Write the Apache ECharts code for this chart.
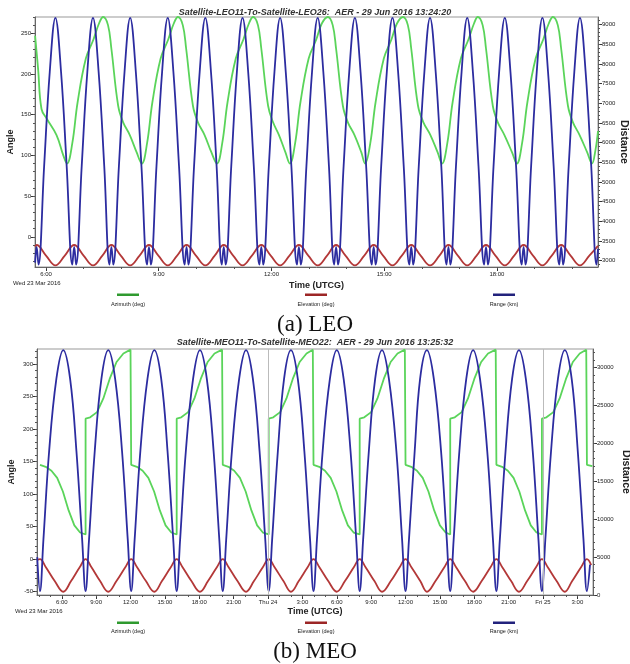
<!DOCTYPE html>
<html>
<head>
<meta charset="utf-8">
<title>AER LEO / MEO</title>
<script src="https://cdn.jsdelivr.net/npm/echarts@6/dist/echarts.min.js"></script>
<style>
html,body{margin:0;padding:0;background:#fff;}
#main{width:630px;height:664px;}
</style>
</head>
<body>
<div id="main"></div>
<script>
// ---- LEO pair, x = hour of Wed 23 Mar 2016 ----
var leoAzimuth = [
	[5.71,247],[5.79,206],[5.88,157],[6.02,145],[6.28,125],[6.46,100],
	[6.56,90],[6.70,115],[6.84,165],[7.06,219],[7.26,242],[7.41,262],[7.52,270],[7.65,260],[7.74,231],[7.92,161],[8.05,141],[8.23,125],[8.41,104],
	[8.55,90],[8.69,115],[8.83,165],[9.05,219],[9.25,242],[9.40,262],[9.51,270],[9.64,260],[9.73,231],[9.91,161],[10.04,141],[10.22,125],[10.40,104],
	[10.55,90],[10.69,115],[10.83,165],[11.05,219],[11.25,242],[11.40,262],[11.51,270],[11.64,260],[11.73,231],[11.91,161],[12.04,141],[12.20,125],[12.37,104],
	[12.49,90],[12.63,115],[12.77,165],[12.99,219],[13.19,242],[13.34,262],[13.50,270],[13.63,260],[13.72,231],[13.90,161],[14.03,141],[14.21,125],[14.39,104],
	[14.49,90],[14.63,115],[14.77,165],[14.99,219],[15.19,242],[15.34,262],[15.50,270],[15.63,260],[15.72,231],[15.90,161],[16.04,141],[16.23,125],[16.42,104],
	[16.54,90],[16.68,115],[16.82,165],[17.04,219],[17.24,242],[17.39,262],[17.49,270],[17.62,260],[17.71,231],[17.89,161],[18.02,141],[18.20,125],[18.40,104],
	[18.53,90],[18.67,115],[18.81,165],[19.03,219],[19.23,242],[19.38,262],[19.49,270],[19.62,260],[19.71,231],[19.89,161],[20.02,141],[20.20,125],[20.40,104],
	[20.53,90],[20.62,106],[20.69,130]
];
var leoElevation = [
	[5.71,-12],[5.75,-10],[6.00,-23],[6.25,-35],[6.50,-23],
	[6.75,-10],[7.00,-23],[7.25,-35],[7.50,-23],
	[7.74,-10],[7.99,-23],[8.24,-35],[8.49,-23],
	[8.74,-10],[8.99,-23],[9.24,-35],[9.49,-23],
	[9.74,-10],[9.99,-23],[10.24,-35],[10.49,-23],
	[10.73,-10],[10.98,-23],[11.23,-35],[11.48,-23],
	[11.73,-10],[11.98,-23],[12.23,-35],[12.48,-23],
	[12.73,-10],[12.98,-23],[13.23,-35],[13.48,-23],
	[13.72,-10],[13.97,-23],[14.22,-35],[14.47,-23],
	[14.72,-10],[14.97,-23],[15.22,-35],[15.47,-23],
	[15.72,-10],[15.97,-23],[16.22,-35],[16.47,-23],
	[16.71,-10],[16.96,-23],[17.21,-35],[17.46,-23],
	[17.71,-10],[17.96,-23],[18.21,-35],[18.46,-23],
	[18.71,-10],[18.96,-23],[19.21,-35],[19.46,-23],
	[19.71,-10],[19.96,-23],[20.21,-35],[20.46,-23],
	[20.69,-11]
];
var leoRange = [
	[5.71,2950],[5.75,3350],[5.80,2900],[5.95,5400],[6.10,7800],[6.25,9170],[6.40,7800],[6.55,5400],[6.70,2900],
	[6.75,3350],[6.80,2900],[6.95,5400],[7.10,7800],[7.25,9170],[7.40,7800],[7.55,5400],[7.69,2900],
	[7.74,3350],[7.79,2900],[7.94,5400],[8.09,7800],[8.24,9170],[8.39,7800],[8.54,5400],[8.69,2900],
	[8.74,3350],[8.79,2900],[8.94,5400],[9.09,7800],[9.24,9170],[9.39,7800],[9.54,5400],[9.69,2900],
	[9.74,3350],[9.79,2900],[9.94,5400],[10.09,7800],[10.24,9170],[10.39,7800],[10.54,5400],[10.68,2900],
	[10.73,3350],[10.78,2900],[10.93,5400],[11.08,7800],[11.23,9170],[11.38,7800],[11.53,5400],[11.68,2900],
	[11.73,3350],[11.78,2900],[11.93,5400],[12.08,7800],[12.23,9170],[12.38,7800],[12.53,5400],[12.68,2900],
	[12.73,3350],[12.78,2900],[12.93,5400],[13.08,7800],[13.23,9170],[13.38,7800],[13.53,5400],[13.67,2900],
	[13.72,3350],[13.77,2900],[13.92,5400],[14.07,7800],[14.22,9170],[14.37,7800],[14.52,5400],[14.67,2900],
	[14.72,3350],[14.77,2900],[14.92,5400],[15.07,7800],[15.22,9170],[15.37,7800],[15.52,5400],[15.67,2900],
	[15.72,3350],[15.77,2900],[15.92,5400],[16.07,7800],[16.22,9170],[16.37,7800],[16.52,5400],[16.66,2900],
	[16.71,3350],[16.76,2900],[16.91,5400],[17.06,7800],[17.21,9170],[17.36,7800],[17.51,5400],[17.66,2900],
	[17.71,3350],[17.76,2900],[17.91,5400],[18.06,7800],[18.21,9170],[18.36,7800],[18.51,5400],[18.66,2900],
	[18.71,3350],[18.76,2900],[18.91,5400],[19.06,7800],[19.21,9170],[19.36,7800],[19.51,5400],[19.66,2900],
	[19.71,3350],[19.76,2900],[19.91,5400],[20.06,7800],[20.21,9170],[20.36,7800],[20.51,5400],[20.65,2900],
	[20.69,3300]
];

// ---- MEO pair, x = hours counted from Wed 23 Mar 2016 00:00 ----
var meoAzimuth = [
	[4.10,145],[4.60,142],[5.10,136],[5.60,125],[6.10,104],[6.60,75],[7.10,52],[7.60,41],[8.08,38],[8.08,216],
	[8.48,218],[9.08,226],[9.63,247],[10.18,277],[10.78,303],[11.38,316],[12.00,322],[12.06,322],[12.06,145],
	[12.56,142],[13.06,136],[13.56,125],[14.06,104],[14.56,75],[15.06,52],[15.56,41],[16.03,38],[16.03,216],
	[16.43,218],[17.03,226],[17.58,247],[18.13,277],[18.73,303],[19.33,316],[19.99,322],[20.05,322],[20.05,145],
	[20.55,142],[21.05,136],[21.55,125],[22.05,104],[22.55,75],[23.05,52],[23.55,41],[24.06,38],[24.06,216],
	[24.46,218],[25.06,226],[25.61,247],[26.16,277],[26.76,303],[27.36,316],[27.91,322],[27.97,322],[27.97,145],
	[28.47,142],[28.97,136],[29.47,125],[29.97,104],[30.47,75],[30.97,52],[31.47,41],[32.00,38],[32.00,216],
	[32.40,218],[33.00,226],[33.55,247],[34.10,277],[34.70,303],[35.30,316],[35.94,322],[36.00,322],[36.00,145],
	[36.50,142],[37.00,136],[37.50,125],[38.00,104],[38.50,75],[39.00,52],[39.50,41],[39.90,38],[39.90,216],
	[40.30,218],[40.90,226],[41.45,247],[42.00,277],[42.60,303],[43.20,316],[43.87,322],[43.93,322],[43.93,145],
	[44.43,142],[44.93,136],[45.43,125],[45.93,104],[46.43,75],[46.93,52],[47.43,41],[47.90,38],[47.90,216],
	[48.30,218],[48.90,226],[49.45,247],[50.00,277],[50.60,303],[51.20,316],[51.77,322],[51.83,322],[51.83,145],
	[52.30,143]
];
var meoElevation = [
	[3.86,-1],[4.10,0],[4.60,-12],[5.40,-34],[6.13,-50],[6.80,-34],[7.58,-12],
	[8.08,0],[8.58,-12],[9.36,-34],[10.06,-50],[10.76,-34],[11.56,-12],
	[12.06,0],[12.56,-12],[13.36,-34],[14.08,-50],[14.73,-34],[15.53,-12],
	[16.03,0],[16.53,-12],[17.33,-34],[18.06,-50],[18.75,-34],[19.55,-12],
	[20.05,0],[20.55,-12],[21.35,-34],[22.08,-50],[22.76,-34],[23.56,-12],
	[24.06,0],[24.56,-12],[25.36,-34],[26.00,-50],[26.67,-34],[27.47,-12],
	[27.97,0],[28.47,-12],[29.27,-34],[30.00,-50],[30.70,-34],[31.50,-12],
	[32.00,0],[32.50,-12],[33.30,-34],[33.95,-50],[34.70,-34],[35.50,-12],
	[36.00,0],[36.50,-12],[37.30,-34],[37.87,-50],[38.60,-34],[39.40,-12],
	[39.90,0],[40.40,-12],[41.20,-34],[41.90,-50],[42.63,-34],[43.43,-12],
	[43.93,0],[44.43,-12],[45.23,-34],[45.90,-50],[46.60,-34],[47.40,-12],
	[47.90,0],[48.40,-12],[49.20,-34],[49.90,-50],[50.53,-34],[51.33,-12],
	[51.83,0],[52.20,-9]
];
var meoRange = [
	[3.86,5000],[4.10,500],[4.40,7300],[4.90,19000],[5.53,28500],[6.13,32300],[6.73,28500],[7.28,19000],[7.78,7300],
	[8.08,500],[8.38,7300],[8.88,19000],[9.46,28500],[10.06,32300],[10.66,28500],[11.26,19000],[11.76,7300],
	[12.06,500],[12.36,7300],[12.86,19000],[13.48,28500],[14.08,32300],[14.68,28500],[15.23,19000],[15.73,7300],
	[16.03,500],[16.33,7300],[16.83,19000],[17.46,28500],[18.06,32300],[18.66,28500],[19.25,19000],[19.75,7300],
	[20.05,500],[20.35,7300],[20.85,19000],[21.48,28500],[22.08,32300],[22.68,28500],[23.26,19000],[23.76,7300],
	[24.06,500],[24.36,7300],[24.86,19000],[25.40,28500],[26.00,32300],[26.60,28500],[27.17,19000],[27.67,7300],
	[27.97,500],[28.27,7300],[28.77,19000],[29.40,28500],[30.00,32300],[30.60,28500],[31.20,19000],[31.70,7300],
	[32.00,500],[32.30,7300],[32.80,19000],[33.35,28500],[33.95,32300],[34.55,28500],[35.20,19000],[35.70,7300],
	[36.00,500],[36.30,7300],[36.80,19000],[37.27,28500],[37.87,32300],[38.47,28500],[39.10,19000],[39.60,7300],
	[39.90,500],[40.20,7300],[40.70,19000],[41.30,28500],[41.90,32300],[42.50,28500],[43.13,19000],[43.63,7300],
	[43.93,500],[44.23,7300],[44.73,19000],[45.30,28500],[45.90,32300],[46.50,28500],[47.10,19000],[47.60,7300],
	[47.90,500],[48.20,7300],[48.70,19000],[49.30,28500],[49.90,32300],[50.50,28500],[51.03,19000],[51.53,7300],
	[51.83,500],[52.10,4000]
];

// ---- ticks ----
var leoTimeLabels = [6, 9, 12, 15, 18];
var meoTimeLabels = [6, 9, 12, 15, 18, 21, 24, 27, 30, 33, 36, 39, 42, 45, 48, 51];
var dayNames = {24: "Thu 24", 48: "Fri 25"};
var midnights = [24, 48];
var leoAngleLabels = [0, 50, 100, 150, 200, 250];
var leoDistLabels = [3000, 3500, 4000, 4500, 5000, 5500, 6000, 6500, 7000, 7500, 8000, 8500, 9000];
var meoAngleLabels = [-50, 0, 50, 100, 150, 200, 250, 300];
var meoDistLabels = [0, 5000, 10000, 15000, 20000, 25000, 30000];
var legendNames = ["Azimuth (deg)", "Elevation (deg)", "Range (km)"];

var font = "Liberation Sans";
var colGreen = "#5ad45a", colRed = "#b33838", colBlue = "#2c2ca0";

// minor tick positions
function steps(a, b, s) {
	var out = [];
	for (var v = a; v <= b + 1e-9; v += s) out.push(Math.round(v * 100) / 100);
	return out;
}

function timeFmt(v) {
	var h = Math.round(v);
	if (dayNames[h]) return dayNames[h];
	return (h % 24) + ":00";
}

function valAxis(grid, pos, min, max, labels, fmt, name, gap, rot, nameSize) {
	return {
		type: "value", gridIndex: grid, position: pos, min: min, max: max,
		name: name, nameLocation: "middle", nameGap: gap, nameRotate: rot, nameMoveOverlap: false,
		nameTextStyle: {fontFamily: font, fontSize: nameSize, fontWeight: "bold", color: "#222"},
		axisLine: {show: true, onZero: false, lineStyle: {color: "#666", width: 1}},
		axisTick: {show: true, length: 4, customValues: labels, lineStyle: {color: "#333"}},
		axisLabel: {show: true, customValues: labels, margin: 4, fontFamily: font, fontSize: 6, color: "#222",
			formatter: fmt || function (v) { return String(v); }},
		splitLine: {show: false}
	};
}
function minorAxis(grid, pos, min, max, ticks) {
	return {
		type: "value", gridIndex: grid, position: pos, min: min, max: max,
		axisLine: {show: false, onZero: false},
		axisLabel: {show: false},
		splitLine: {show: false},
		axisTick: {show: true, length: 2, customValues: ticks, lineStyle: {color: "#555"}}
	};
}

function line(name, data, color, xi, yi, smooth) {
	return {
		name: name, type: "line", data: data, xAxisIndex: xi, yAxisIndex: yi,
		showSymbol: false, symbol: "none", smooth: smooth, clip: true,
		lineStyle: {color: color, width: 1.8}, itemStyle: {color: color}
	};
}

// legend swatch + label under each chart
function legendGraphics(ySwatch, yText) {
	var xs = [128, 316, 504], cols = ["#2f9a2f", "#9c2626", "#22227c"], g = [];
	for (var i = 0; i < 3; i++) {
		g.push({type: "rect", left: xs[i] - 11, top: ySwatch, shape: {width: 22, height: 2.5}, style: {fill: cols[i]}});
		g.push({type: "text", x: xs[i], y: yText, style: {text: legendNames[i], font: "5.5px " + font, fill: "#222", textAlign: "center", textVerticalAlign: "middle"}});
	}
	return g;
}

var myChart = echarts.init(document.getElementById("main"));
var option = {
	animation: false,
	backgroundColor: "#fff",
	title: [
		{text: "Satellite-LEO11-To-Satellite-LEO26:  AER - 29 Jun 2016 13:24:20", left: "center", top: 3,
			textStyle: {fontFamily: font, fontSize: 9, fontStyle: "italic", fontWeight: "bold", color: "#333"}},
		{text: "(a) LEO", left: "center", top: 308,
			textStyle: {fontFamily: "Liberation Serif", fontSize: 23, fontWeight: "normal", color: "#111"}},
		{text: "Satellite-MEO11-To-Satellite-MEO22:  AER - 29 Jun 2016 13:25:32", left: "center", top: 333,
			textStyle: {fontFamily: font, fontSize: 9, fontStyle: "italic", fontWeight: "bold", color: "#333"}},
		{text: "(b) MEO", left: "center", top: 635,
			textStyle: {fontFamily: "Liberation Serif", fontSize: 23, fontWeight: "normal", color: "#111"}}
	],
	grid: [
		{left: 35, top: 17, width: 563, height: 250, show: true, borderColor: "#999", borderWidth: 1, containLabel: false, outerBoundsMode: "none"},
		{left: 37, top: 349, width: 556, height: 246, show: true, borderColor: "#999", borderWidth: 1, containLabel: false, outerBoundsMode: "none"}
	],
	xAxis: [
		valAxis(0, "bottom", 5.707, 20.69, leoTimeLabels, timeFmt, "Time (UTCG)", 14, 0, 9),
		minorAxis(0, "bottom", 5.707, 20.69, steps(6, 20, 1)),
		valAxis(1, "bottom", 3.84, 52.36, meoTimeLabels, timeFmt, "Time (UTCG)", 12, 0, 9),
		minorAxis(1, "bottom", 3.84, 52.36, steps(4, 52, 1))
	],
	yAxis: [
		valAxis(0, "left", -37, 270, leoAngleLabels, null, "Angle", 20, 90, 9),
		minorAxis(0, "left", -37, 270, steps(-30, 270, 10)),
		valAxis(0, "right", 2840, 9190, leoDistLabels, null, "Distance", 20, -90, 10.5),
		minorAxis(0, "right", 2840, 9190, steps(2900, 9100, 100)),
		valAxis(1, "left", -55, 323, meoAngleLabels, null, "Angle", 21, 90, 9),
		minorAxis(1, "left", -55, 323, steps(-50, 320, 10)),
		valAxis(1, "right", 0, 32450, meoDistLabels, null, "Distance", 27, -90, 10.5),
		minorAxis(1, "right", 0, 32450, steps(0, 32000, 1000))
	],
	series: [
		line("Azimuth (deg)", leoAzimuth, colGreen, 0, 0, 0.4),
		line("Elevation (deg)", leoElevation, colRed, 0, 0, 0.4),
		line("Range (km)", leoRange, colBlue, 0, 2, 0.4),
		line("Azimuth (deg)", meoAzimuth, colGreen, 2, 4, false),
		line("Elevation (deg)", meoElevation, colRed, 2, 4, 0.4),
		line("Range (km)", meoRange, colBlue, 2, 6, 0.4)
	],
	graphic: [
		{type: "text", left: 13, top: 280, style: {text: "Wed 23 Mar 2016", font: "6px " + font, fill: "#222"}},
		{type: "text", left: 15, top: 608, style: {text: "Wed 23 Mar 2016", font: "6px " + font, fill: "#222"}}
	].concat(legendGraphics(293.5, 304)).concat(legendGraphics(621.5, 631))
};
// midnight lines on the MEO chart
option.series[3].markLine = {
	silent: true, symbol: ["none", "none"], label: {show: false},
	lineStyle: {color: "#bbb", type: "solid", width: 1},
	data: midnights.map(function (h) { return {xAxis: h}; })
};
myChart.setOption(option);
</script>
</body>
</html>
